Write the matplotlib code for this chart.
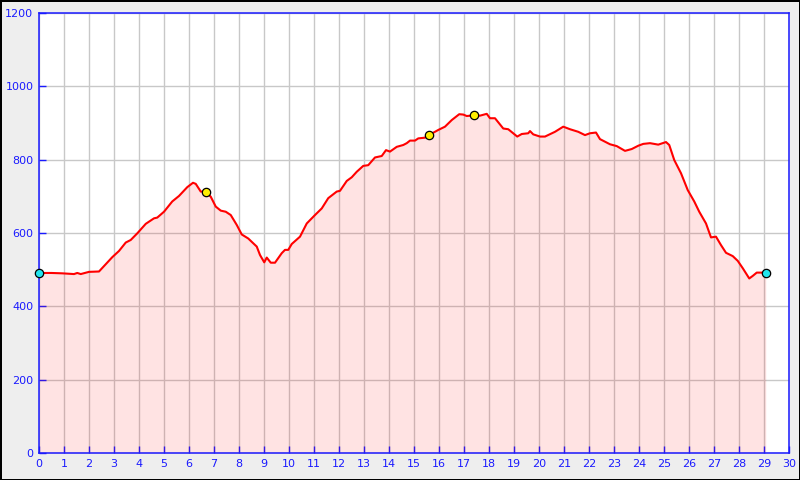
import numpy as np
import matplotlib
matplotlib.use("Agg")
import matplotlib.pyplot as plt

# distance (km) and elevation (m)
dist = [0.0, 0.5, 0.93, 1.4, 1.53, 1.67, 2.0, 2.4, 2.93, 3.2, 3.47, 3.67, 3.93,
        4.27, 4.6, 4.73, 5.0, 5.33, 5.6, 5.93, 6.16, 6.27, 6.47, 6.67, 6.87,
        7.07, 7.27, 7.47, 7.67, 7.91, 8.11, 8.37, 8.57, 8.71, 8.84, 9.01, 9.11,
        9.27, 9.44, 9.71, 9.84, 9.97, 10.11, 10.44, 10.71, 11.04, 11.31, 11.57,
        11.91, 12.04, 12.31, 12.51, 12.71, 12.97, 13.17, 13.44, 13.71, 13.88,
        14.04, 14.31, 14.57, 14.71, 14.84, 15.04, 15.17, 15.44, 15.6, 15.97,
        16.24, 16.51, 16.81, 16.97, 17.11, 17.41, 17.64, 17.91, 18.04, 18.24,
        18.57, 18.77, 19.13, 19.31, 19.57, 19.64, 19.77, 20.04, 20.24, 20.64,
        20.97, 21.24, 21.57, 21.84, 22.04, 22.28, 22.44, 22.64, 22.84, 23.11,
        23.44, 23.71, 23.97, 24.17, 24.44, 24.77, 25.08, 25.21, 25.41, 25.68,
        25.95, 26.21, 26.41, 26.68, 26.88, 27.08, 27.28, 27.48, 27.75, 27.95,
        28.15, 28.41, 28.55, 28.71, 28.92, 29.07]
elev = [491, 491, 490, 488, 491, 488, 494, 495, 534, 551, 574, 581, 599,
        625, 640, 642, 658, 686, 701, 725, 737, 734, 713, 713, 699,
        672, 661, 658, 649, 622, 596, 585, 572, 563, 540, 520, 533,
        519, 519, 545, 554, 554, 570, 590, 626, 649, 667, 695,
        713, 715, 742, 752, 767, 783, 785, 806, 810, 826,
        822, 835, 840, 845, 852, 852, 858, 860, 867, 881,
        890, 908, 924, 923, 919, 921, 920, 925, 913, 913,
        885, 883, 863, 870, 872, 878, 869, 863, 863, 876,
        890, 883, 876, 867, 872, 874, 856, 849, 842, 837,
        824, 829, 838, 843, 845, 841, 848, 840, 799, 763,
        717, 686, 658, 626, 588, 590, 567, 546, 537, 524,
        504, 476, 483, 492, 492, 490]

# waypoints
cyan_x = [0.0, 29.07]
cyan_y = [491, 490]
yellow_x = [6.67, 15.6, 17.41]
yellow_y = [713, 867, 921]

blue = '#1a1aff'

fig = plt.figure(figsize=(8, 4.8), dpi=100, facecolor='#eeeeee',
                 edgecolor='black', linewidth=2)
ax = fig.add_axes([0.04875, 0.05625, 0.9375, 0.91667])
ax.set_facecolor('white')

ax.grid(True, color='#c8c8c8', linewidth=1)
ax.set_axisbelow(True)

ax.fill_between(dist, elev, 0, color='red', alpha=0.11, linewidth=0, zorder=2)
ax.plot(dist, elev, color='red', linewidth=1.5, zorder=3)
ax.plot(cyan_x, cyan_y, 'o', color='#22e5ee', markeredgecolor='black',
        markersize=6, markeredgewidth=0.9, zorder=4, clip_on=False)
ax.plot(yellow_x, yellow_y, 'o', color='#ffee00', markeredgecolor='black',
        markersize=6, markeredgewidth=0.9, zorder=4)

ax.set_xlim(0, 30)
ax.set_ylim(0, 1200)
ax.set_xticks(range(0, 31))
ax.set_yticks(range(0, 1201, 200))

for s in ax.spines.values():
    s.set_color(blue)
    s.set_linewidth(1.1)
ax.tick_params(direction='in', length=5, color=blue, labelcolor=blue,
               labelsize=8, width=1)
ax.tick_params(axis='x', pad=4)
ax.tick_params(axis='y', pad=4)

fig.savefig('out.png', dpi=100, facecolor=fig.get_facecolor(),
            edgecolor=fig.get_edgecolor())
